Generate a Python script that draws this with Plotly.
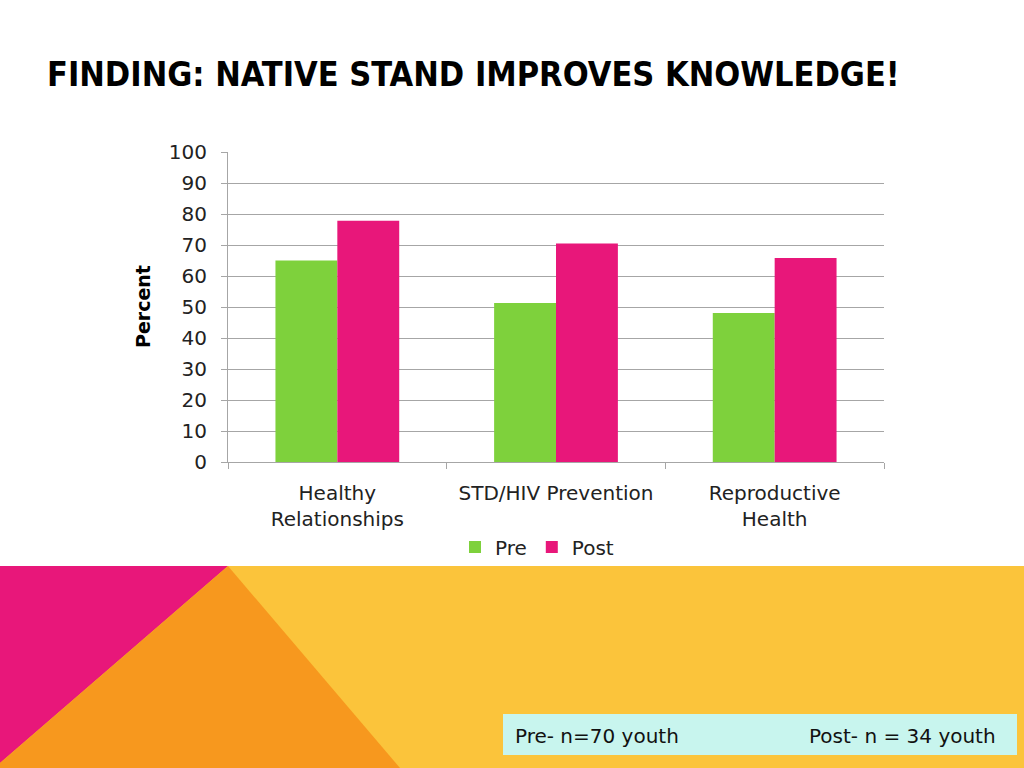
import plotly.graph_objects as go

categories = ["Healthy<br>Relationships", "STD/HIV Prevention", "Reproductive<br>Health"]
pre = [65.0, 51.3, 48.1]
post = [77.8, 70.5, 65.8]
y_ticks = [0, 10, 20, 30, 40, 50, 60, 70, 80, 90, 100]

GREEN = "#7ED13C"
PINK = "#E8177A"
ORANGE = "#F7981E"
YELLOW = "#FBC43B"
FONT = "DejaVu Sans, Verdana, sans-serif"

fig = go.Figure()
fig.add_bar(x=categories, y=pre, name="Pre", marker_color=GREEN, marker_line_width=0)
fig.add_bar(x=categories, y=post, name="Post", marker_color=PINK, marker_line_width=0)

W, H = 1024, 768
px = lambda v: v / W
py = lambda v: 1 - v / H

# background decoration at the bottom of the slide
shapes = [
    dict(type="rect", xref="paper", yref="paper", x0=0, x1=1, y0=0, y1=py(566),
         fillcolor=YELLOW, line_width=0, layer="below"),
    dict(type="path", xref="paper", yref="paper",
         path=f"M 0 {py(566)} L {px(228)} {py(566)} L 0 {py(763)} Z",
         fillcolor=PINK, line_width=0, layer="below"),
    dict(type="path", xref="paper", yref="paper",
         path=f"M {px(228)} {py(566)} L {px(400)} 0 L 0 0 L 0 {py(763)} Z",
         fillcolor=ORANGE, line_width=0, layer="below"),
    dict(type="rect", xref="paper", yref="paper", x0=px(503), x1=px(1017),
         y0=py(755), y1=py(714), fillcolor="#C8F5EE", line_width=0, layer="below"),
]

annotations = [
    dict(text="<b>FINDING: NATIVE STAND IMPROVES KNOWLEDGE!</b>", xref="paper", yref="paper",
         x=px(45), y=py(74), xanchor="left", yanchor="middle", showarrow=False,
         font=dict(family="DejaVu Sans Condensed, sans-serif", size=34, color="#000000")),
    dict(text="<b>Percent</b>", xref="paper", yref="paper", x=px(143), y=py(307),
         textangle=-90, showarrow=False, xanchor="center", yanchor="middle",
         font=dict(family=FONT, size=19, color="#000000")),
    dict(text="Pre- n=70 youth", xref="paper", yref="paper", x=px(513), y=py(736),
         xanchor="left", yanchor="middle", showarrow=False,
         font=dict(family=FONT, size=20, color="#111111")),
    dict(text="Post- n = 34 youth", xref="paper", yref="paper", x=px(998), y=py(736),
         xanchor="right", yanchor="middle", showarrow=False,
         font=dict(family=FONT, size=20, color="#111111")),
]

fig.update_layout(
    width=W, height=H,
    margin=dict(l=0, r=0, t=0, b=0, autoexpand=False),
    paper_bgcolor="white", plot_bgcolor="white",
    barmode="group", bargap=0.434, bargroupgap=0,
    font=dict(family=FONT, size=20, color="#222222"),
    shapes=shapes, annotations=annotations,
    legend=dict(orientation="h", x=px(537), y=py(547), xanchor="center", yanchor="middle",
                font=dict(size=20, color="#222222"), bgcolor="rgba(0,0,0,0)",
                itemwidth=30, traceorder="normal"),
    xaxis=dict(domain=[px(228), px(884)], showline=True, linecolor="#A6A6A6", linewidth=1,
               ticks="outside", tickson="boundaries", ticklen=6, tickcolor="#A6A6A6",
               showgrid=False, automargin=False, ticklabelstandoff=13,
               tickfont=dict(size=20, color="#222222")),
    yaxis=dict(domain=[py(462), py(152)], range=[0, 100], tickvals=y_ticks,
               showline=True, linecolor="#A6A6A6", linewidth=1,
               ticks="outside", ticklen=6, tickcolor="#A6A6A6",
               showgrid=True, gridcolor="#A6A6A6", gridwidth=1, zeroline=False,
               automargin=False, ticklabelstandoff=10,
               tickfont=dict(size=20, color="#222222")),
)

fig.write_html("out.html", config={"displayModeBar": False},
               post_script="document.body.style.margin='0';")
